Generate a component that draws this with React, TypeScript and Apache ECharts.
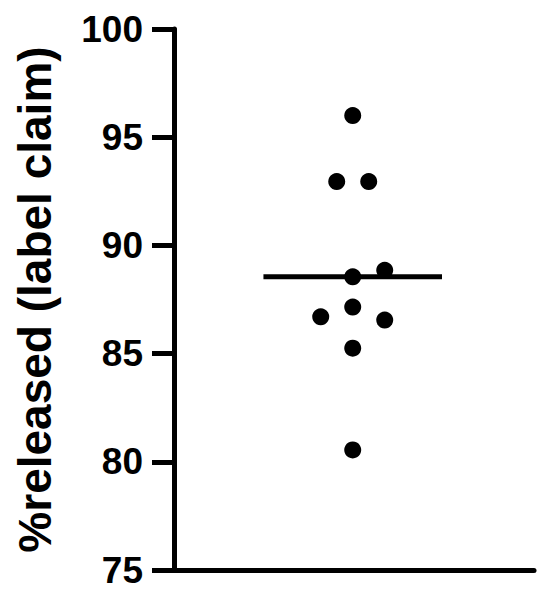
import React, { useEffect, useRef } from "react";
import * as echarts from "echarts";

const releasedValues: number[] = [96.0, 92.95, 92.95, 88.55, 88.85, 87.15, 86.7, 86.55, 85.25, 80.55];
const jitterX: number[] = [0, -1, 1, 0, 2, 0, -2, 2, 0, 0];
const yTicks: number[] = [75, 80, 85, 90, 95, 100];
const yTitle = "%released (label claim)";

export default function App() {
  const ref = useRef<HTMLDivElement>(null);
  useEffect(() => {
    if (!ref.current) return;
    const chart = echarts.init(ref.current, undefined, { renderer: "svg" });
    const mean = releasedValues.reduce((a, b) => a + b, 0) / releasedValues.length;
    const font = "'Liberation Sans', Arial, Helvetica, sans-serif";
    chart.setOption({
      animation: false,
      backgroundColor: "#ffffff",
      grid: { left: 174, right: 16, top: 29, bottom: 30, containLabel: false },
      xAxis: {
        type: "value",
        min: -11.17,
        max: 11.33,
        axisLine: { show: true, onZero: false, lineStyle: { color: "#000", width: 5 } },
        axisTick: { show: false },
        axisLabel: { show: false },
        splitLine: { show: false },
      },
      yAxis: {
        type: "value",
        min: yTicks[0],
        max: yTicks[yTicks.length - 1],
        interval: 5,
        name: yTitle,
        nameLocation: "middle",
        nameGap: 116,
        nameTextStyle: { fontFamily: font, fontWeight: "bold", fontSize: 46, color: "#000" },
        axisLine: { show: true, onZero: false, lineStyle: { color: "#000", width: 5 } },
        axisTick: { show: true, length: 22, lineStyle: { color: "#000", width: 5 } },
        axisLabel: { margin: 31, fontFamily: font, fontWeight: "bold", fontSize: 37, color: "#000" },
        splitLine: { show: false },
      },
      series: [
        {
          type: "line",
          data: [[-5.58, mean], [5.58, mean]],
          symbol: "none",
          lineStyle: { color: "#000", width: 5 },
          z: 2,
        },
        {
          type: "scatter",
          data: releasedValues.map((v, i) => [jitterX[i], v]),
          symbol: "circle",
          symbolSize: 17,
          itemStyle: { color: "#000", opacity: 1 },
          z: 3,
        },
      ],
    });
    return () => chart.dispose();
  }, []);
  return (
    <div
      ref={ref}
      style={{ position: "fixed", left: 0, top: 0, width: 550, height: 600 }}
    />
  );
}
